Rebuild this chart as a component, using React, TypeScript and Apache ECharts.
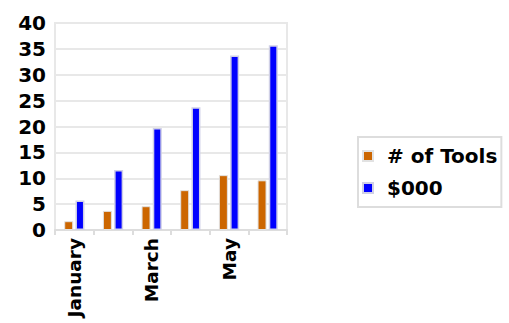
import React, { useEffect, useRef } from "react";
import * as echarts from "echarts";

const categories = ["January", "February", "March", "April", "May", "June"];
const tools = [1.7, 3.7, 4.6, 7.7, 10.6, 9.6];
const dollars = [5.7, 11.6, 19.7, 23.7, 33.7, 35.7];
const seriesNames = ["# of Tools", "$000"];

export default function App() {
  const ref = useRef<HTMLDivElement>(null);
  useEffect(() => {
    if (!ref.current) return;
    const chart = echarts.init(ref.current, null, { renderer: "svg" });
    const font = "DejaVu Sans";
    chart.setOption({
      animation: false,
      grid: {
        left: 55,
        right: 222,
        top: 23,
        bottom: 93,
        show: true,
        borderColor: "#e8e8e8",
        borderWidth: 2,
      },
      legend: {
        orient: "vertical",
        left: 358,
        top: 137,
        itemWidth: 10,
        itemHeight: 10,
        itemGap: 12,
        icon: "rect",
        padding: [9, 4, 9, 4],
        borderColor: "#dddddd",
        borderWidth: 2,
        textStyle: {
          fontFamily: font,
          fontWeight: "bold",
          fontSize: 20,
          color: "#000",
          padding: [0, 0, 0, 9],
        },
        data: seriesNames,
      },
      xAxis: {
        type: "category",
        data: categories,
        axisLine: { lineStyle: { color: "#dddddd", width: 2 } },
        axisTick: { show: true, interval: 0, length: 5, lineStyle: { color: "#dddddd", width: 2 } },
        axisLabel: {
          interval: 1,
          rotate: 90,
          margin: 8,
          fontFamily: font,
          fontWeight: "bold",
          fontSize: 18.5,
          color: "#000",
        },
      },
      yAxis: {
        type: "value",
        min: 0,
        max: 40,
        interval: 5,
        axisLine: { show: false },
        axisTick: { show: false },
        splitLine: { lineStyle: { color: "#e8e8e8", width: 2 } },
        axisLabel: { fontFamily: font, fontWeight: "bold", fontSize: 20, color: "#000", margin: 9 },
      },
      series: [
        {
          name: seriesNames[0],
          type: "bar",
          data: tools,
          barWidth: 9,
          barGap: "25%",
          itemStyle: { color: "#cc6600", borderColor: "#e2e2e2", borderWidth: 1 },
        },
        {
          name: seriesNames[1],
          type: "bar",
          data: dollars,
          barWidth: 9,
          itemStyle: { color: "#0000ff", borderColor: "#d0d0e6", borderWidth: 1.5 },
        },
      ],
    });
    return () => chart.dispose();
  }, []);
  return <div ref={ref} style={{ width: 509, height: 323, position: "absolute", left: 0, top: 0 }} />;
}
